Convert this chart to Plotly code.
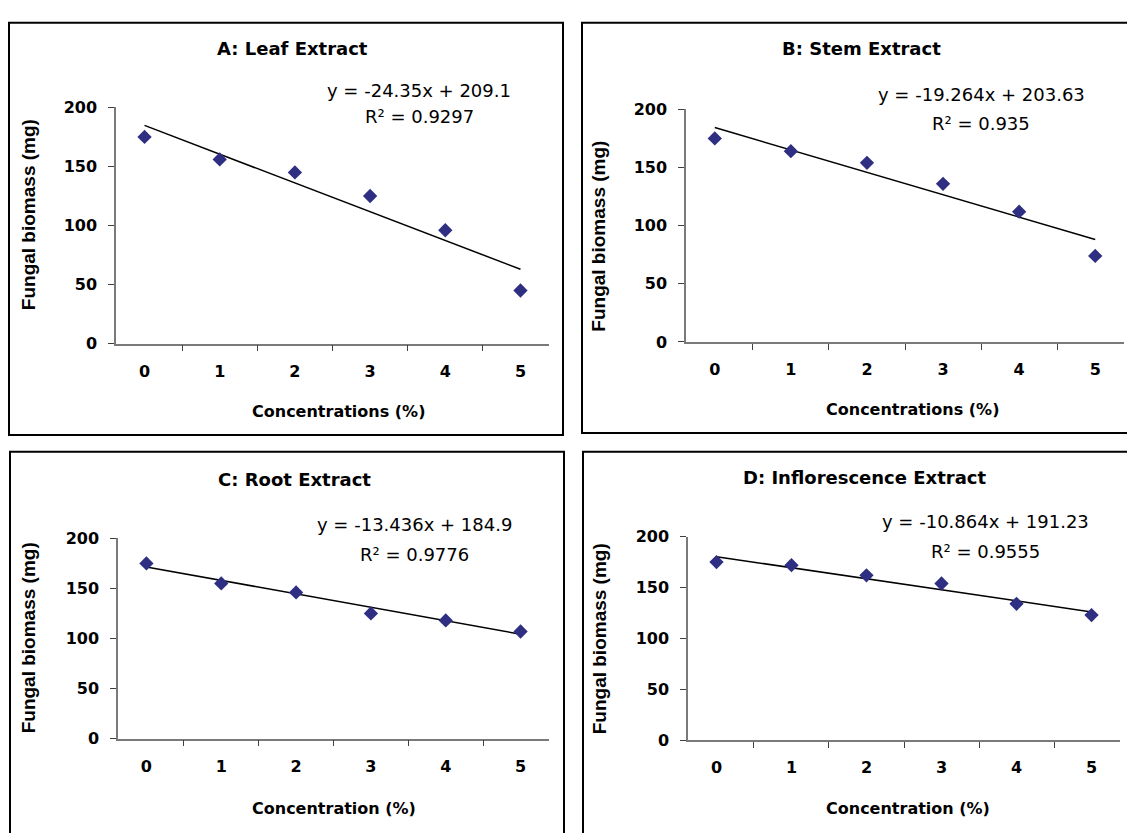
import plotly.graph_objects as go

W, H = 1127, 833

# ---- data ----
concentrations = ["0", "1", "2", "3", "4", "5"]
leaf_biomass = [175, 156, 145, 125, 96, 45]
stem_biomass = [175, 164, 154, 136, 112, 74]
root_biomass = [175, 155, 146, 125, 118, 107]
inflo_biomass = [175, 172, 162, 154, 134, 123]

panel_titles = ["A: Leaf Extract", "B: Stem Extract", "C: Root Extract", "D: Inflorescence Extract"]
x_titles = ["Concentrations (%)", "Concentrations (%)", "Concentration (%)", "Concentration (%)"]
y_title = "Fungal biomass (mg)"
slopes = [-24.35, -19.264, -13.436, -10.864]
intercepts = [209.1, 203.63, 184.9, 191.23]
slope_labels = ["-24.35", "-19.264", "-13.436", "-10.864"]
intercept_labels = ["209.1", "203.63", "184.9", "191.23"]
r2_labels = ["0.9297", "0.935", "0.9776", "0.9555"]
y_ticks = [0, 50, 100, 150, 200]

series = [leaf_biomass, stem_biomass, root_biomass, inflo_biomass]

# ---- layout geometry in pixels ----
FONT = "DejaVu Sans"
panels = [
    dict(box=(9, 14, 563, 436), xax=(116, 549), yax=(342.5, 100.7),
         title=(292, 40), eq=(419, 83), r2=(419, 110), yt=(28, 211), xt=(338, 412)),
    dict(box=(582, 14, 1135, 434), xax=(686, 1124), yax=(340.7, 102.7),
         title=(861, 40), eq=(981, 87), r2=(981, 117), yt=(599, 233), xt=(912, 410)),
    dict(box=(10, 453, 564, 845), xax=(118, 549), yax=(746.7, 541.7),
         title=(294, 481), eq=(414, 528), r2=(414, 558), yt=(28, 644), xt=(334, 818)),
    dict(box=(583, 453, 1135, 845), xax=(688, 1120), yax=(748.3, 540),
         title=(864, 479), eq=(985, 524), r2=(985, 555), yt=(599, 645), xt=(908, 818)),
]


def fx(px):
    return px / W


def fy(py):
    return 1 - py / H


fig = go.Figure()
layout = dict(
    width=W, height=H, margin=dict(l=0, r=0, t=0, b=0),
    paper_bgcolor="white", plot_bgcolor="white", showlegend=False,
    font=dict(family=FONT, color="black"),
)
shapes = []
annotations = []

for i, (p, ys) in enumerate(zip(panels, series)):
    n = "" if i == 0 else str(i + 1)
    xa, ya = "x" + n, "y" + n
    trend = [slopes[i] * (k + 1) + intercepts[i] for k in range(len(concentrations))]
    fig.add_trace(go.Scatter(x=concentrations, y=trend, mode="lines",
                             line=dict(color="black", width=1.5),
                             xaxis=xa, yaxis=ya, hoverinfo="skip"))
    fig.add_trace(go.Scatter(x=concentrations, y=ys, mode="markers",
                             marker=dict(symbol="diamond", size=11, color="#2E2E82"),
                             xaxis=xa, yaxis=ya))
    layout["xaxis" + n] = dict(
        domain=[fx(p["xax"][0]), fx(p["xax"][1])], anchor=ya, type="category",
        tickson="boundaries", ticks="outside", ticklen=6, tickwidth=1, tickcolor="#404040",
        showline=True, linecolor="#7a7a7a", linewidth=1.5, showgrid=False, zeroline=False,
        tickfont=dict(family=FONT, size=16, weight="bold"), ticklabelstandoff=12,
        fixedrange=True,
    )
    layout["yaxis" + n] = dict(
        domain=[fy(p["yax"][0]), fy(p["yax"][1])], anchor=xa, range=[0, 200],
        tickmode="array", tickvals=y_ticks, ticks="outside", ticklen=6, tickwidth=1,
        tickcolor="#404040", showline=True, linecolor="#7a7a7a", linewidth=1.5,
        showgrid=False, zeroline=False,
        tickfont=dict(family=FONT, size=16, weight="bold"), ticklabelstandoff=8,
        fixedrange=True,
    )
    x0, y0, x1, y1 = p["box"]
    shapes.append(dict(type="rect", xref="paper", yref="paper",
                       x0=fx(x0), x1=fx(x1), y0=fy(y0), y1=fy(y1),
                       line=dict(color="black", width=2), layer="below"))
    annotations.append(dict(text=panel_titles[i], x=fx(p["title"][0]), y=fy(p["title"][1]),
                            xref="paper", yref="paper", showarrow=False,
                            xanchor="center", yanchor="middle",
                            font=dict(family=FONT, size=18, weight="bold")))
    annotations.append(dict(text=f"y = {slope_labels[i]}x + {intercept_labels[i]}",
                            x=fx(p["eq"][0]), y=fy(p["eq"][1]),
                            xref="paper", yref="paper", showarrow=False,
                            xanchor="center", yanchor="middle",
                            font=dict(family=FONT, size=18)))
    annotations.append(dict(text=f"R\u00b2 = {r2_labels[i]}",
                            x=fx(p["r2"][0]), y=fy(p["r2"][1]),
                            xref="paper", yref="paper", showarrow=False,
                            xanchor="center", yanchor="middle",
                            font=dict(family=FONT, size=18)))
    annotations.append(dict(text=y_title, x=fx(p["yt"][0]), y=fy(p["yt"][1]),
                            xref="paper", yref="paper", showarrow=False, textangle=-90,
                            xanchor="center", yanchor="middle",
                            font=dict(family="Liberation Sans", size=19, weight="bold")))
    annotations.append(dict(text=x_titles[i], x=fx(p["xt"][0]), y=fy(p["xt"][1]),
                            xref="paper", yref="paper", showarrow=False,
                            xanchor="center", yanchor="middle",
                            font=dict(family=FONT, size=16, weight="bold")))

layout["shapes"] = shapes
layout["annotations"] = annotations
fig.update_layout(**layout)
fig.write_html("out.html")
